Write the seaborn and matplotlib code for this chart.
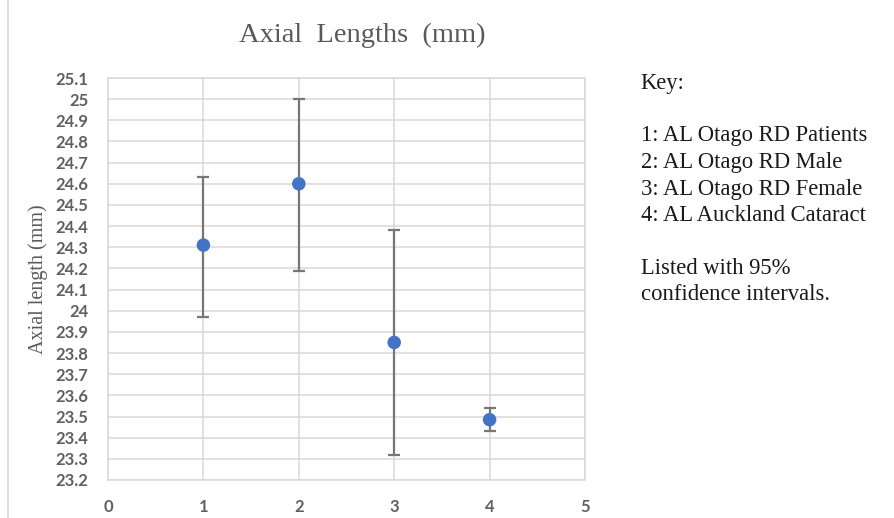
import numpy as np
import pandas as pd
import matplotlib
matplotlib.use("Agg")
import matplotlib.pyplot as plt
import seaborn as sns
from matplotlib.lines import Line2D

# values
groups = [1, 2, 3, 4]
mean_al = [24.31, 24.60, 23.85, 23.485]
ci_low = [23.97, 24.19, 23.32, 23.43]
ci_high = [24.63, 25.00, 24.38, 23.54]

key_lines = ["Key:", "",
             "1: AL Otago RD Patients",
             "2: AL Otago RD Male",
             "3: AL Otago RD Female",
             "4: AL Auckland Cataract", "",
             "Listed with 95%",
             "confidence intervals."]

df = pd.DataFrame({"group": groups, "al": mean_al, "lo": ci_low, "hi": ci_high})

sns.set_theme(style="white")
plt.rcParams["font.family"] = ["DejaVu Sans"]

grey_txt = "#595959"
grid_c = "#d9d9d9"

fig = plt.figure(figsize=(8.95, 5.18), dpi=100)
ax = fig.add_axes([0.1207, 0.0734, 0.5329, 0.776])

# error bars (95% CI)
yerr = [df["al"] - df["lo"], df["hi"] - df["al"]]
ax.errorbar(df["group"], df["al"], yerr=yerr, fmt="none", ecolor="#767676",
            elinewidth=1.6, capsize=4, capthick=1.6, zorder=3)
sns.scatterplot(data=df, x="group", y="al", ax=ax, color="#4472C4", s=95,
                edgecolor="none", zorder=4, legend=False)

ax.set_xlim(0, 5)
ax.set_ylim(23.2, 25.1)
ax.set_xticks(range(0, 6))
yt = np.round(np.arange(23.2, 25.1001, 0.1), 1)
ax.set_yticks(yt)
ax.set_yticklabels([f"{v:g}" for v in yt])
ax.grid(True, color=grid_c, linewidth=1.1)
ax.set_axisbelow(True)
for s in ax.spines.values():
    s.set_color(grid_c)
    s.set_linewidth(1.1)

ax.tick_params(axis="both", length=0, labelcolor="#606060", labelsize=12)
ax.tick_params(axis="y", pad=14)
ax.tick_params(axis="x", pad=14)
for lab in ax.get_xticklabels() + ax.get_yticklabels():
    lab.set_fontfamily("Lato")
    lab.set_fontweight("bold")

ax.set_xlabel("")
ax.set_ylabel("Axial length (mm)", family="Liberation Serif", fontsize=14.5,
              color=grey_txt, labelpad=4)
ax.yaxis.set_label_coords(-0.125, 0.5)

fig.text(0.405, 0.932, "Axial  Lengths  (mm)", family="Liberation Serif",
         fontsize=20.5, color=grey_txt, ha="center", va="center")

# key text on the right
y0 = 83
for i, line in enumerate(key_lines):
    if line:
        fig.text(0.716, 1 - (y0 + i * 26.5) / 518, line,
                 family="Liberation Serif", fontsize=16.3, color="#1a1a1a",
                 ha="left", va="center")

# left edge of the chart frame
fig.add_artist(Line2D([8 / 895, 8 / 895], [0, 1], color=grid_c, linewidth=1.2,
                      transform=fig.transFigure))

fig.savefig("out.png", dpi=100, facecolor="white")
